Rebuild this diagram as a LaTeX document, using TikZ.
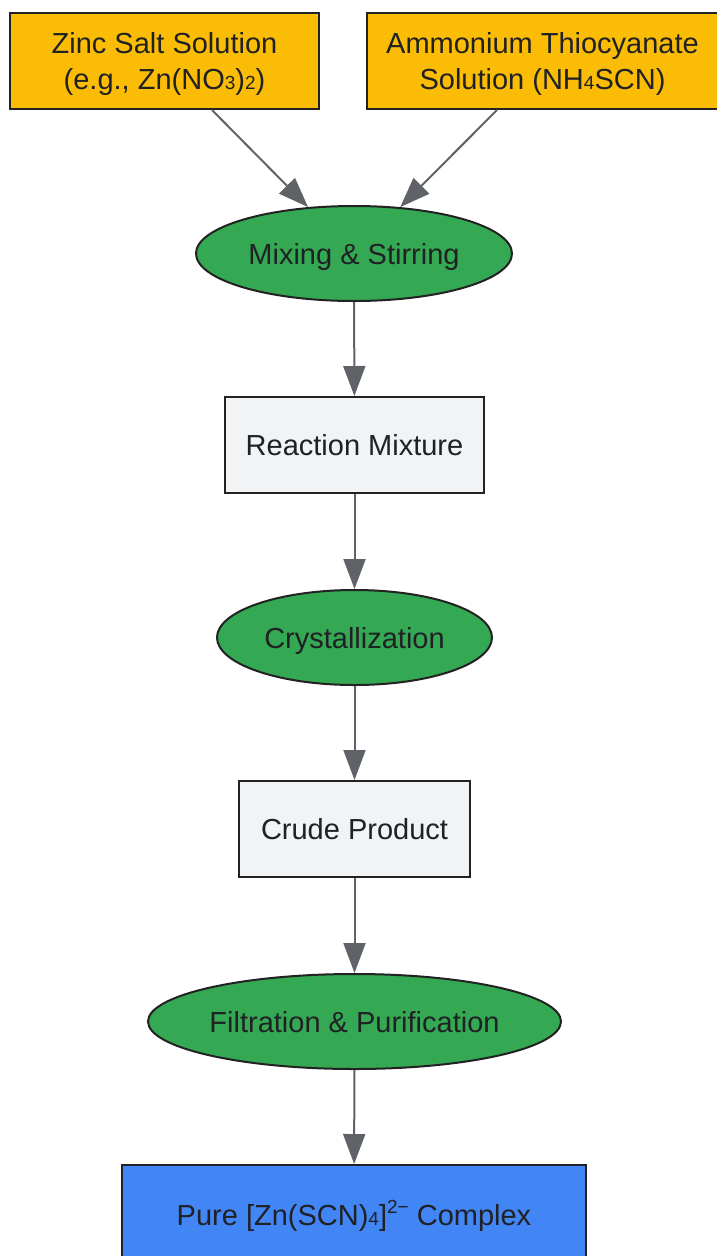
\documentclass[tikz,border=0pt]{standalone}
\usepackage{fontspec}
\setmainfont{Liberation Sans}
\usetikzlibrary{shapes.geometric,arrows.meta}
\definecolor{yel}{HTML}{FBBC05}
\definecolor{grn}{HTML}{34A853}
\definecolor{lgr}{HTML}{F1F3F4}
\definecolor{blu}{HTML}{4285F4}
\definecolor{edge}{HTML}{5F6368}
\definecolor{txt}{HTML}{202124}
\definecolor{bord}{HTML}{222222}
\newcommand{\subd}[1]{{\fontsize{19}{19}\selectfont #1}}
\newcommand{\supd}[1]{\raisebox{0.75ex}{\fontsize{19}{19}\selectfont #1}}
\begin{document}
\begin{tikzpicture}[x=1pt,y=-1pt,
  every node/.style={font=\fontsize{29}{36}\selectfont, text=txt, inner sep=0pt, line width=2pt, draw=bord, align=center, text depth=0pt},
  rbox/.style={rectangle},
  oval/.style={ellipse, fill=grn},
  arr/.style={draw=edge, line width=2pt, -{Triangle[length=30pt,width=22pt]}}]
\useasboundingbox (0,0) rectangle (716,1256);
\node[rbox, fill=yel, minimum width=309pt, minimum height=96pt] (b1) at (164.5,61) {Zinc Salt Solution\\(e.g., Zn(NO\subd{3})\subd{2})};
\node[rbox, fill=yel, minimum width=351pt, minimum height=96pt] (b2) at (542.5,61) {Ammonium Thiocyanate\\Solution (NH\subd{4}SCN)};
\node[oval, minimum width=316pt, minimum height=95pt] (mix) at (354,253.5) {Mixing \& Stirring};
\node[rbox, fill=lgr, minimum width=259pt, minimum height=96pt] (rm) at (354.5,445) {Reaction Mixture};
\node[oval, minimum width=275pt, minimum height=95pt] (cry) at (354.5,637.5) {Crystallization};
\node[rbox, fill=lgr, minimum width=231pt, minimum height=96pt] (cp) at (354.5,829) {Crude Product};
\node[oval, minimum width=413pt, minimum height=95pt] (fil) at (354.5,1021.5) {Filtration \& Purification};
\node[rbox, fill=blu, minimum width=464pt, minimum height=96pt] (pure) at (354,1213) {Pure [Zn(SCN)\subd{4}]\supd{2−} Complex};
\draw[arr] ([xshift=47.5pt]b1.south) -- (mix);
\draw[arr] ([xshift=-45.5pt]b2.south) -- (mix);
\draw[arr] (mix) -- (rm);
\draw[arr] (rm) -- (cry);
\draw[arr] (cry) -- (cp);
\draw[arr] (cp) -- (fil);
\draw[arr] (fil) -- (pure);
\end{tikzpicture}
\end{document}
